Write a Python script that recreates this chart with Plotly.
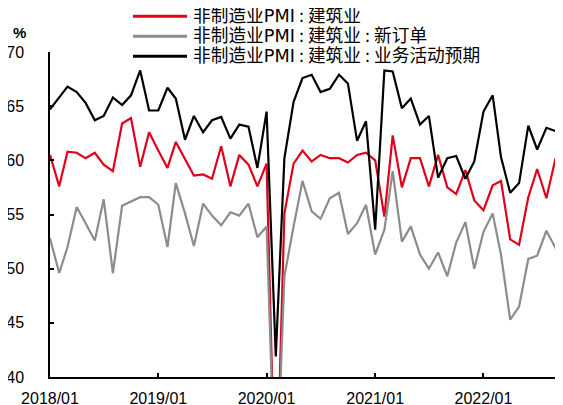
import plotly.graph_objects as go
import pandas as pd

months = pd.date_range("2018-01-01", "2022-10-01", freq="MS").strftime("%Y-%m-%d").tolist()

construction = [
    60.5, 57.6, 60.8, 60.7, 60.2, 60.7, 59.6, 59.0, 63.4, 63.9, 59.4, 62.6,
    60.9, 59.3, 61.7, 60.1, 58.6, 58.7, 58.3, 61.3, 57.6, 60.5, 59.6, 57.6,
    59.7, 26.6, 55.1, 59.7, 60.9, 59.9, 60.5, 60.2, 60.2, 59.8, 60.5, 60.7,
    60.0, 54.8, 62.3, 57.5, 60.2, 60.2, 57.6, 60.5, 57.5, 56.9, 59.1, 56.3,
    55.4, 57.7, 58.1, 52.7, 52.2, 56.6, 59.2, 56.5, 60.2, 58.2,
]
new_orders = [
    52.8, 49.6, 52.0, 55.7, 54.2, 52.6, 56.4, 49.6, 55.8, 56.2, 56.6, 56.6,
    55.9, 52.0, 57.9, 55.1, 52.1, 56.0, 54.9, 54.0, 55.2, 54.9, 56.0, 52.9,
    53.9, 28.0, 49.3, 53.9, 58.1, 55.3, 54.6, 56.5, 57.0, 53.2, 54.2, 55.9,
    51.3, 53.6, 59.0, 52.5, 53.9, 51.3, 50.0, 51.5, 49.3, 52.4, 54.3, 50.0,
    53.4, 55.1, 51.3, 45.3, 46.5, 50.9, 51.2, 53.5, 51.9, 49.0,
]
expectations = [
    64.7, 65.8, 66.8, 66.3, 65.3, 63.7, 64.1, 65.8, 65.1, 66.0, 68.3, 64.6,
    64.6, 66.7, 65.7, 61.9, 64.1, 62.6, 63.7, 64.0, 62.0, 63.3, 63.1, 59.3,
    64.5, 41.9, 60.2, 65.4, 67.6, 67.9, 66.3, 66.6, 67.9, 67.1, 61.8, 63.6,
    53.6, 68.3, 68.2, 64.8, 65.7, 63.3, 64.1, 58.4, 60.2, 60.4, 58.3, 59.9,
    64.5, 66.0, 60.3, 57.0, 57.9, 63.2, 61.0, 63.0, 62.7, 64.2,
]

names = ["非制造业PMI:建筑业", "非制造业PMI:建筑业:新订单", "非制造业PMI:建筑业:业务活动预期"]
colors = ["#E0001B", "#8C8C8C", "#000000"]
series = [construction, new_orders, expectations]

fig = go.Figure()
for nm, col, ys in zip(names, colors, series):
    fig.add_trace(go.Scatter(x=months, y=ys, mode="lines", name=nm,
                             line=dict(color=col, width=2.2), showlegend=False))

# The page body adds an 8px offset; lay out in figure coordinates = screen - 8.
OFF = 8
W, H = 563, 405
L, T = 50 - OFF, 52 - OFF          # plot left / top in figure px
R_EDGE, B_EDGE = 563 - OFF, 377 - OFF
pw, ph = R_EDGE - L, B_EDGE - T

def px_x(p):
    return (p - OFF - L) / pw

def px_y(p):
    return (B_EDGE - (p - OFF)) / ph

shapes = []
annotations = []
leg_font = dict(family="DejaVu Sans, Noto Sans CJK SC, sans-serif", size=17.7, color="#000")
for k, (nm, col) in enumerate(zip(names, colors)):
    yy = px_y(16.3 + 20.0 * k)
    shapes.append(dict(type="line", xref="paper", yref="paper",
                       x0=px_x(133), x1=px_x(187), y0=yy, y1=yy,
                       line=dict(color=col, width=3)))
    annotations.append(dict(text=nm.replace(":", "\u2009:\u2009"), xref="paper", yref="paper",
                            x=px_x(191), y=yy, xanchor="left", yanchor="middle",
                            showarrow=False, font=leg_font))

annotations.append(dict(text="<b>%</b>", xref="paper", yref="paper",
                        x=px_x(19.5), y=px_y(32.5), xanchor="center", yanchor="middle",
                        showarrow=False,
                        font=dict(family="Liberation Sans, Arial", size=15, color="#000")))

tick_font = dict(family="Liberation Sans, Arial, sans-serif", size=16, color="#000")

fig.update_layout(
    width=W, height=H,
    margin=dict(l=L, r=W - R_EDGE, t=T, b=H - B_EDGE, autoexpand=False),
    paper_bgcolor="white", plot_bgcolor="white",
    showlegend=False,
    xaxis=dict(type="date", range=["2018-01-01", "2022-09-26"],
               tickformat="%Y/%m", dtick="M12", tick0="2018-01-01",
               ticks="inside", ticklen=4, tickwidth=1.5, tickcolor="#000",
               showline=True, linecolor="#000", linewidth=1.5,
               showgrid=False, zeroline=False, tickfont=tick_font,
               ticklabelstandoff=6, automargin=False),
    yaxis=dict(range=[40, 70], dtick=5, tick0=40,
               ticks="inside", ticklen=4, tickwidth=1.5, tickcolor="#000",
               showline=True, linecolor="#000", linewidth=1.5,
               showgrid=False, zeroline=False, tickfont=tick_font,
               ticklabelstandoff=21, automargin=False),
    shapes=shapes,
    annotations=annotations,
)

fig.write_html("out.html")
